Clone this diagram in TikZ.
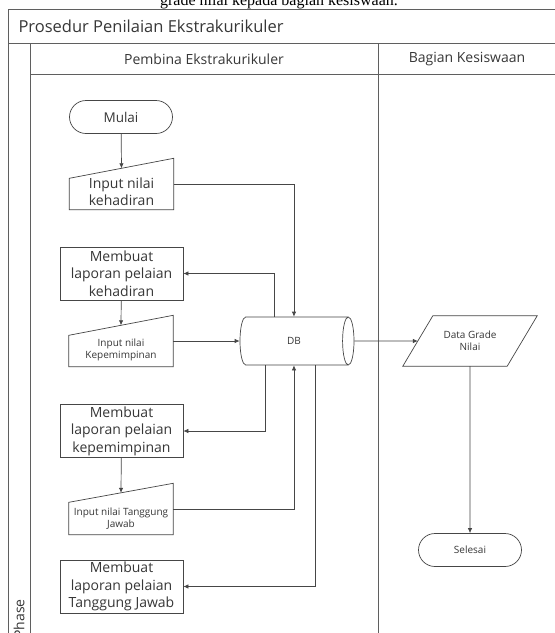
\documentclass[tikz,border=0pt]{standalone}
\usepackage{fontspec}
\setmainfont{Open Sans}
\newfontfamily\capfont{Liberation Serif}
\usepackage{tikz}
\usetikzlibrary{arrows.meta,shapes,positioning,calc}
\definecolor{lanegray}{RGB}{95,95,95}
\definecolor{flowgray}{RGB}{70,70,70}
\definecolor{inkgray}{RGB}{55,55,55}
\newcommand\padtop{\rule{0pt}{26pt}}

\begin{document}
\begin{tikzpicture}[
    x=1pt, y=-1pt,
    lane/.style={draw=lanegray, line width=0.9pt},
    term/.style={rounded rectangle, draw=flowgray, line width=0.7pt, minimum width=103pt, minimum height=33pt, inner sep=0pt, text=inkgray},
    proc/.style={rectangle, draw=flowgray, line width=0.7pt, minimum width=123pt, minimum height=53pt, inner sep=0pt, align=center, text=inkgray, font=\fontsize{14}{17.5}\selectfont},
    manin/.style={rectangle, minimum width=104pt, minimum height=51pt, inner sep=0pt, align=center, text=inkgray},
    dbase/.style={cylinder, draw=flowgray, line width=0.7pt, minimum width=48pt, minimum height=114pt, aspect=1.6, inner sep=0pt, text=inkgray, font=\fontsize{10}{12}\selectfont},
    iodata/.style={rectangle, minimum width=134pt, minimum height=50pt, inner sep=0pt, align=center, text=inkgray, font=\fontsize{10}{12}\selectfont},
    outline/.style={draw=flowgray, line width=0.7pt},
    arrow/.style={-{Latex[length=5pt,width=4.5pt]}, draw=flowgray, line width=0.7pt}
]
    \useasboundingbox (0,0) rectangle (555,633);
    \clip (0,0) rectangle (555,633);

    % cut caption above the frame
    \node[anchor=base, font=\capfont\fontsize{16}{19}\selectfont] (caption) at (279,5) {grade nilai kepada bagian kesiswaan.};

    % swimlane frame
    \fill[white] (8,9) rectangle (560,640);
    \draw[lane] (560,9) -- (8,9) -- (8,640);
    \draw[lane] (8,43) -- (560,43);
    \draw[lane] (30,43) -- (30,640);
    \draw[lane] (30,74) -- (560,74);
    \draw[lane] (378,43) -- (378,640);

    \node[anchor=base west, text=inkgray, font=\fontsize{16.5}{20}\selectfont] (title) at (15,32) {Prosedur Penilaian Ekstrakurikuler};
    \node[text=inkgray, font=\fontsize{14}{17}\selectfont] (pembina) at (204,59) {Pembina Ekstrakurikuler};
    \node[text=inkgray, font=\fontsize{14}{17}\selectfont] (kesiswaan) at (467,59) {Bagian Kesiswaan};
    \node[rotate=90, text=inkgray, font=\fontsize{14}{17}\selectfont] (phase) at (19,619) {Phase};

    % Pembina lane
    \node[term, font=\fontsize{13.5}{16}\selectfont] (mulai) at (121,117) {Mulai};

    \node[manin, font=\fontsize{14}{17}\selectfont] (hadir) at (121.5,184) {\padtop Input nilai\\kehadiran};
    \draw[outline] (hadir.south west) -- (hadir.south east) -- (hadir.north east) -- ([yshift=-20pt]hadir.north west) -- cycle;

    \node[proc] (lapHadir) at (121.5,273.5) {Membuat\\laporan pelaian\\kehadiran};

    \node[manin, font=\fontsize{10}{12}\selectfont] (pimpin) at (121,341) {\padtop Input nilai\\Kepemimpinan};
    \draw[outline] (pimpin.south west) -- (pimpin.south east) -- (pimpin.north east) -- ([yshift=-20pt]pimpin.north west) -- cycle;

    \node[proc] (lapPimpin) at (121.5,431) {Membuat\\laporan pelaian\\kepemimpinan};

    \node[manin, font=\fontsize{10}{12}\selectfont] (tjawab) at (121,509) {\padtop Input nilai Tanggung\\Jawab};
    \draw[outline] (tjawab.south west) -- (tjawab.south east) -- (tjawab.north east) -- ([yshift=-19pt]tjawab.north west) -- cycle;

    \node[proc] (lapTjawab) at (121.5,586.5) {Membuat\\laporan pelaian\\Tanggung Jawab};

    \node[dbase, anchor=shape center] (db) at (297,341) {DB};

    % Kesiswaan lane
    \node[iodata] (grade) at (470,341) {Data Grade\\Nilai};
    \draw[outline] ([xshift=30pt]grade.north west) -- (grade.north east) -- ([xshift=-30pt]grade.south east) -- (grade.south west) -- cycle;

    \node[term, font=\fontsize{10}{12}\selectfont] (selesai) at (470,550) {Selesai};

    % flow
    \draw[arrow] (mulai) -- ([yshift=-10pt]hadir.north);
    \draw[arrow] (hadir.east) -| (db.north);
    \draw[arrow] ([xshift=-20pt]db.north) |- (lapHadir.east);
    \draw[arrow] (lapHadir) -- ([yshift=-10pt]pimpin.north);
    \draw[arrow] (pimpin.east) -- (db.west);
    \draw[arrow] ([xshift=-29pt]db.south) |- (lapPimpin.east);
    \draw[arrow] (lapPimpin) -- ([yshift=-9.5pt]tjawab.north);
    \draw[arrow] (tjawab.east) -| (db.south);
    \draw[arrow] ([xshift=21pt]db.south) |- (lapTjawab.east);
    \draw[arrow] (db.east) -- ([xshift=15pt]grade.west);
    \draw[arrow] (grade.south) -- (selesai);
\end{tikzpicture}
\end{document}
